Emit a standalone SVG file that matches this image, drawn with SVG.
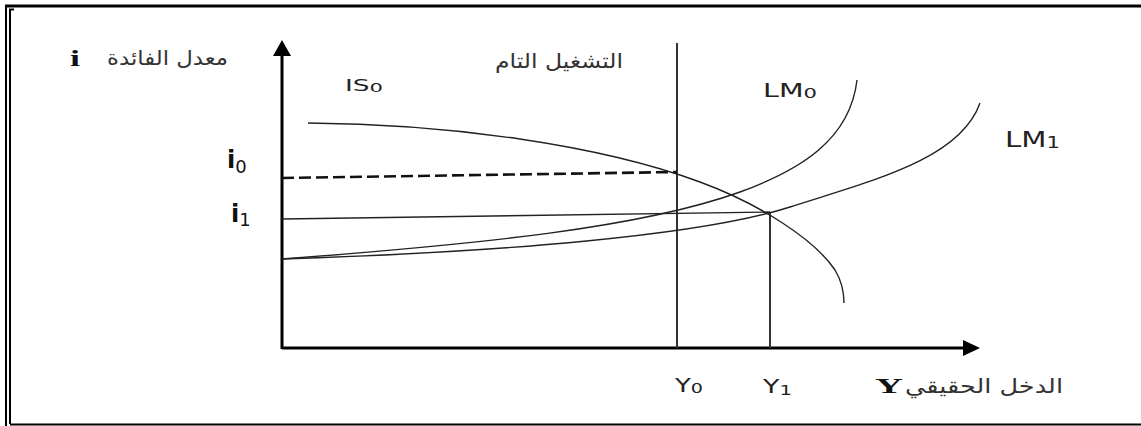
<svg xmlns="http://www.w3.org/2000/svg" width="1141" height="426" viewBox="0 0 1141 426">
<style>
.frame{fill:none;stroke:#000}
.axis{fill:none;stroke:#000;stroke-width:3}
.curve{fill:none;stroke:#222;stroke-width:1.4}
.vline{fill:none;stroke:#333;stroke-width:2}
.lbl{font-family:"DejaVu Sans",sans-serif;fill:#222}
.ar{font-family:"DejaVu Sans",sans-serif;fill:#333;font-size:20px}
.ser{font-family:"Liberation Serif",serif;font-weight:bold;fill:#111}
.sym{font-family:"DejaVu Sans",sans-serif;font-weight:bold;fill:#111}
</style>
<rect width="1141" height="426" fill="#fff"/>
<g id="frame">
<line class="frame" x1="5" y1="6" x2="1141" y2="6" stroke-width="3"/>
<line class="frame" x1="6" y1="5" x2="6" y2="426" stroke-width="2"/>
<polyline class="frame" points="14,9.5 10,9.5 10,424" stroke-width="2"/>
<line class="frame" x1="10" y1="424.5" x2="1141" y2="424.5" stroke-width="2"/>
</g>
<g id="axes">
<line class="axis" x1="282" y1="349" x2="282" y2="54"/>
<polygon points="282,40 273,56 291,56" fill="#000"/>
<line class="axis" x1="282" y1="348" x2="966" y2="348"/>
<polygon points="980,348 963,340 963,356" fill="#000"/>
</g>
<g id="connectors">
<line class="vline" x1="677" y1="43" x2="677" y2="348"/>
<line class="vline" x1="770" y1="212" x2="770" y2="348"/>
<path d="M282,178 L677,172" fill="none" stroke="#111" stroke-width="2.6" stroke-dasharray="12 5"/>
<path class="curve" d="M282,219 L770,212"/>
</g>
<g id="IS0">
<path class="curve" d="M308,123 C450,124 600,145 700,182 C760,204 815,240 835,270 C841,280 844,292 844,303"/>
<text class="lbl" x="345" y="91" font-size="15" textLength="38" lengthAdjust="spacingAndGlyphs">IS<tspan font-size="12" dy="1">0</tspan></text>
</g>
<g id="LM0">
<path class="curve" d="M282,259 C480,244 640,228 740,192 C800,170 850,140 857,80"/>
<text class="lbl" x="763" y="97" font-size="19" textLength="54" lengthAdjust="spacingAndGlyphs">LM<tspan font-size="14" dy="1">0</tspan></text>
</g>
<g id="LM1">
<path class="curve" d="M282,259 C500,252 700,236 790,207 C870,181 960,160 980,103"/>
<text class="lbl" x="1005" y="147" font-size="22" textLength="55" lengthAdjust="spacingAndGlyphs">LM<tspan font-size="16" dy="1">1</tspan></text>
</g>
<g id="i-labels">
<text class="sym" x="227" y="168" font-size="24">i<tspan font-weight="normal" font-size="18" dy="5">0</tspan></text>
<text class="sym" x="231" y="222" font-size="24">i<tspan font-weight="normal" font-size="18" dy="4">1</tspan></text>
</g>
<g id="Y-labels">
<text class="lbl" x="675" y="392" font-size="19" textLength="28" lengthAdjust="spacingAndGlyphs">Y<tspan font-size="14" dy="1">0</tspan></text>
<text class="lbl" x="763" y="393" font-size="19" textLength="29" lengthAdjust="spacingAndGlyphs">Y<tspan font-size="14" dy="2">1</tspan></text>
</g>
<g id="axis-titles">
<text class="ar" x="107" y="65" textLength="121" lengthAdjust="spacingAndGlyphs">معدل الفائدة</text>
<text class="ser" x="70" y="66" font-size="23" textLength="10" lengthAdjust="spacingAndGlyphs">i</text>
<text class="ar" x="495" y="68" textLength="128" lengthAdjust="spacingAndGlyphs">التشغيل التام</text>
<text class="ar" x="905" y="393" textLength="158" lengthAdjust="spacingAndGlyphs">الدخل الحقيقي</text>
<text class="ser" x="875" y="393" font-size="22" textLength="28" lengthAdjust="spacingAndGlyphs">Y</text>
</g>
</svg>
